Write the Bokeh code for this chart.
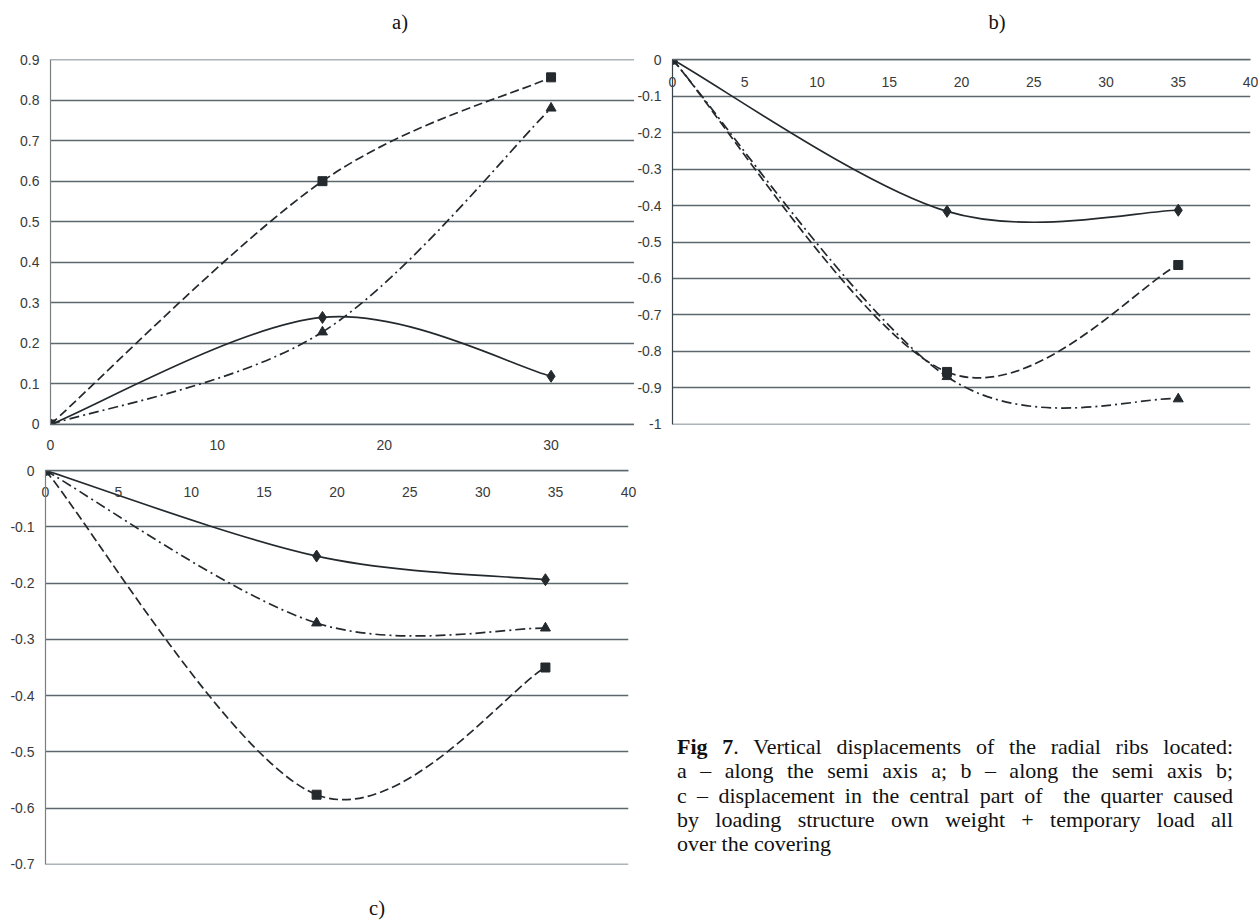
from bokeh.plotting import figure
from bokeh.models import FixedTicker, Div
from bokeh.layouts import row, column
from bokeh.embed import file_html
from bokeh.resources import INLINE

# ---------------- data ----------------
# panel a) along the semi axis a
a_x = [0, 16.3, 30]
a_diamond = [0, 0.264, 0.119]
a_square = [0, 0.600, 0.856]
a_triangle = [0, 0.228, 0.780]

# panel b) along the semi axis b
b_x = [0, 19, 35]
b_diamond = [0, -0.416, -0.413]
b_square = [0, -0.856, -0.563]
b_triangle = [0, -0.869, -0.930]

# panel c) central part of the quarter
c_x = [0, 18.6, 34.3]
c_diamond = [0, -0.152, -0.194]
c_triangle = [0, -0.271, -0.280]
c_square = [0, -0.576, -0.350]

a_yticks = [0, 0.1, 0.2, 0.3, 0.4, 0.5, 0.6, 0.7, 0.8, 0.9]
a_ylabels = ["0", "0.1", "0.2", "0.3", "0.4", "0.5", "0.6", "0.7", "0.8", "0.9"]
a_xticks = [0, 10, 20, 30]
a_xlabels = ["0", "10", "20", "30"]

b_yticks = [0, -0.1, -0.2, -0.3, -0.4, -0.5, -0.6, -0.7, -0.8, -0.9, -1]
b_ylabels = ["0", "-0.1", "-0.2", "-0.3", "-0.4", "-0.5", "-0.6", "-0.7", "-0.8", "-0.9", "-1"]
b_xticks = [0, 5, 10, 15, 20, 25, 30, 35, 40]
b_xlabels = ["0", "5", "10", "15", "20", "25", "30", "35", "40"]

c_yticks = [0, -0.1, -0.2, -0.3, -0.4, -0.5, -0.6, -0.7]
c_ylabels = ["0", "-0.1", "-0.2", "-0.3", "-0.4", "-0.5", "-0.6", "-0.7"]
c_xticks = [0, 5, 10, 15, 20, 25, 30, 35, 40]
c_xlabels = ["0", "5", "10", "15", "20", "25", "30", "35", "40"]

caption_lines = [
    "Vertical displacements of the radial ribs located:",
    "a \u2013 along the semi axis a; b \u2013 along the semi axis b;",
    "c \u2013 displacement in the central part of&nbsp; the quarter caused",
    "by loading structure own weight + temporary load all",
    "over the covering",
]

# ---------------- styles ----------------
GRID = "#5d686e"
INK = "#23292d"
TICK_FONT = "Liberation Sans"
TICK_COLOR = "#3a3a3a"
SERIF = "Liberation Serif"
EPS = 1e-6


def style_axis(ax, ticks, labels, standoff):
    ax.ticker = FixedTicker(ticks=ticks)
    ax.major_label_overrides = {t: l for t, l in zip(ticks, labels)}
    ax.major_tick_out = 0
    ax.major_tick_in = 0
    ax.minor_tick_out = 0
    ax.minor_tick_in = 0
    ax.major_label_standoff = int(standoff)
    ax.major_label_text_font = TICK_FONT
    ax.major_label_text_font_size = "14px"
    ax.major_label_text_color = TICK_COLOR


def base_fig(width, height, xr, yr, mbl, mbr, mbt, mbb, yticks, ylabels, xloc):
    p = figure(width=width, height=height, x_range=xr, y_range=yr,
               output_backend="svg", toolbar_location=None,
               x_axis_location=xloc,
               min_border_left=mbl, min_border_right=mbr,
               min_border_top=mbt, min_border_bottom=mbb)
    p.outline_line_color = None
    p.background_fill_color = "white"
    p.border_fill_color = "white"
    p.xgrid.grid_line_color = None
    style_axis(p.yaxis[0], yticks, ylabels, 11)
    p.ygrid.ticker = FixedTicker(ticks=yticks)
    p.ygrid.grid_line_color = GRID
    p.ygrid.grid_line_width = 1.4
    p.yaxis.axis_line_width = 1.2
    return p


def smooth_series(p, xs, ys, dash, width=1.7):
    # Excel-like smoothed line: cubic Bezier segments, control points from neighbours
    n = len(xs)
    x0, y0, x1, y1, cx0, cy0, cx1, cy1 = [], [], [], [], [], [], [], []
    for i in range(n - 1):
        im1 = max(i - 1, 0)
        ip2 = min(i + 2, n - 1)
        x0.append(xs[i]); y0.append(ys[i])
        x1.append(xs[i + 1]); y1.append(ys[i + 1])
        cx0.append(xs[i] + (xs[i + 1] - xs[im1]) / 6.0)
        cy0.append(ys[i] + (ys[i + 1] - ys[im1]) / 6.0)
        cx1.append(xs[i + 1] - (xs[ip2] - xs[i]) / 6.0)
        cy1.append(ys[i + 1] - (ys[ip2] - ys[i]) / 6.0)
    p.bezier(x0=x0, y0=y0, x1=x1, y1=y1, cx0=cx0, cy0=cy0, cx1=cx1, cy1=cy1,
             line_color=INK, line_width=width, line_dash=dash)


def draw_all(p, xs, diamond, triangle, square):
    smooth_series(p, xs, diamond, "solid")
    smooth_series(p, xs, triangle, "10 4 2 4")
    smooth_series(p, xs, square, "9 4")
    p.scatter(xs, diamond, marker="diamond", size=12, color=INK)
    p.scatter(xs, triangle, marker="triangle", size=10, color=INK)
    p.scatter(xs, square, marker="square", size=9, color=INK)


# ---------------- panel a ----------------
pa = base_fig(634, 417, (0, 35), (-EPS, 0.9 + EPS), 50, 0, 14, 38,
              a_yticks, a_ylabels, "below")
pa.yaxis.axis_line_color = "#7a7f82"
style_axis(pa.xaxis[0], a_xticks, a_xlabels, 15)
pa.xaxis.axis_line_color = GRID
pa.xaxis.axis_line_width = 1.4
draw_all(pa, a_x, a_diamond, a_triangle, a_square)

# ---------------- panel b ----------------
pb = base_fig(624, 417, (0, 40), (-1 - EPS, EPS), 35, 8, 14, 8,
              b_yticks, b_ylabels, "above")
pb.yaxis.axis_line_color = "#3a4248"
style_axis(pb.xaxis[0], b_xticks, b_xlabels, -27)
pb.xaxis.axis_line_color = GRID
pb.xaxis.axis_line_width = 1.4
draw_all(pb, b_x, b_diamond, b_triangle, b_square)

# ---------------- panel c ----------------
pc = base_fig(640, 412, (0, 40), (-0.7 - EPS, EPS), 45, 12, 8, 10,
              c_yticks, c_ylabels, "above")
pc.yaxis.axis_line_color = "#7a7f82"
style_axis(pc.xaxis[0], c_xticks, c_xlabels, -26)
pc.xaxis.axis_line_color = GRID
pc.xaxis.axis_line_width = 1.4
draw_all(pc, c_x, c_diamond, c_triangle, c_square)

# ---------------- texts ----------------
TITLE_CSS = (f"font-family:'{SERIF}';font-size:20.5px;line-height:20px;color:#111;"
             "position:absolute;width:60px;text-align:center;")
head = Div(width=1258, height=45, margin=0, text=(
    '<div style="position:relative;width:1258px;height:45px;">'
    f'<div style="{TITLE_CSS}left:370px;top:12px;">a)</div>'
    f'<div style="{TITLE_CSS}left:967px;top:12px;">b)</div>'
    '</div>'))

c_title = Div(width=640, height=46, margin=0, text=(
    '<div style="position:relative;width:640px;height:46px;">'
    f'<div style="{TITLE_CSS}left:347px;top:24px;">c)</div>'
    '</div>'))

lines_html = ""
for i, ln in enumerate(caption_lines):
    if i == 0:
        ln = "<b>Fig 7</b>. " + ln
    if i == len(caption_lines) - 1:
        lines_html += f'<div style="text-align:left;white-space:nowrap;">{ln}</div>'
    else:
        lines_html += f'<div style="text-align:justify;text-align-last:justify;">{ln}</div>'

caption = Div(width=618, height=412, margin=0, text=(
    '<div style="position:relative;width:618px;height:412px;">'
    f'<div style="position:absolute;left:37px;top:273px;width:556px;'
    f'font-family:\'{SERIF}\';font-size:22px;line-height:24.3px;color:#111;">'
    + lines_html + '</div></div>'))

layout = column(head, row(pa, pb), row(column(pc, c_title), caption))

with open("out.html", "w") as f:
    f.write(file_html(layout, INLINE))
